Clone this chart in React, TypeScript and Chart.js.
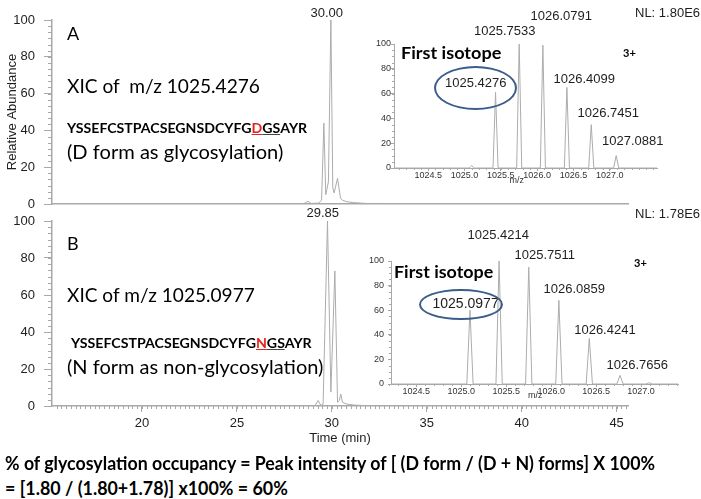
import React, { useEffect, useLayoutEffect, useRef } from 'react';
import { Chart, registerables } from 'chart.js';
Chart.register(...registerables);

// ---------- data ----------
const TIME_MIN = 15.26;
const TIME_MAX = 45.6;
const timeTicks = [20, 25, 30, 35, 40, 45];
const abundTicks = [0, 20, 40, 60, 80, 100];

// XIC m/z 1025.4276 (D form)
const timeA = [15.26, 28.5, 28.74, 28.9, 29.3, 29.46, 29.58, 29.68, 29.82, 29.95, 30.05, 30.12, 30.3, 30.46, 30.58, 30.8, 31.1, 31.8, 45.6];
const abundA = [0, 0, 1.5, 0.3, 0.5, 2, 44, 5, 12, 100, 9, 6, 14, 3, 2, 1.2, 0.8, 0.3, 0];

// XIC m/z 1025.0977 (N form)
const timeB = [15.26, 29.1, 29.28, 29.42, 29.54, 29.77, 29.95, 30.16, 30.3, 30.4, 30.47, 30.56, 30.8, 31.2, 31.8, 45.6];
const abundB = [0, 0, 3, 0.3, 1, 100, 7.5, 73, 2, 3, 6.5, 2, 1, 0.5, 0.2, 0];

// Inset spectra
const mzTicks = [1024.5, 1025.0, 1025.5, 1026.0, 1026.5, 1027.0];
const mzA = [1025.1, 1025.4276, 1025.7533, 1026.0791, 1026.4099, 1026.7451, 1027.0881];
const intA = [2, 61, 100, 99, 65, 35, 10];
const mzB = [1025.0977, 1025.4214, 1025.7511, 1026.0859, 1026.4241, 1026.7656, 1027.09];
const intB = [60, 100, 95, 68, 37, 7, 1];
const MZ_A_RANGE = [1024.03, 1027.65];
const MZ_B_RANGE = [1024.22, 1027.41];
const PEAK_HALF_WIDTH = 0.035;

// ---------- styles ----------
const CAL = "Lato, 'Open Sans', sans-serif";
const ARIAL = "'Liberation Sans', Arial, sans-serif";
const AXIS = '#a8a8a8';
const TRACE = '#acacac';
const TXT = '#1e1e1e';

type Minor = { axis: string; from: number; to: number; step: number; len: number };

function minorTicksPlugin(items: Minor[]) {
  return {
    id: 'minorTicks',
    afterDraw(chart: any) {
      const ctx = chart.ctx;
      ctx.save();
      ctx.strokeStyle = AXIS;
      ctx.lineWidth = 1;
      ctx.beginPath();
      items.forEach((it) => {
        const scale = chart.scales[it.axis];
        const n = Math.round((it.to - it.from) / it.step);
        for (let i = 0; i <= n; i++) {
          const v = it.from + i * it.step;
          const p = Math.round(scale.getPixelForValue(v)) + 0.5;
          if (scale.isHorizontal()) {
            ctx.moveTo(p, scale.top);
            ctx.lineTo(p, scale.top + it.len);
          } else {
            ctx.moveTo(scale.right - it.len, p);
            ctx.lineTo(scale.right, p);
          }
        }
      });
      ctx.stroke();
      ctx.restore();
    },
  };
}

function chromConfig(times: number[], values: number[], o: { padTop: number; xHeight: number; showX: boolean; yTitle: boolean }) {
  const data = times.map((t, i) => ({ x: t, y: values[i] }));
  const minors: Minor[] = [{ axis: 'y', from: 0, to: 100, step: 20 / 6, len: 4 }];
  if (o.showX) minors.push({ axis: 'x', from: 15.5, to: 45.5, step: 0.25, len: 3 });
  return {
    type: 'line',
    data: { datasets: [{ data, borderColor: TRACE, borderWidth: 1, pointRadius: 0, tension: 0, fill: false }] },
    options: {
      animation: false,
      responsive: false,
      events: [],
      layout: { padding: { left: 0, right: 73, top: o.padTop, bottom: 0 } },
      plugins: { legend: { display: false }, tooltip: { enabled: false } },
      scales: {
        x: {
          type: 'linear',
          min: TIME_MIN,
          max: TIME_MAX,
          afterBuildTicks: (s: any) => { s.ticks = timeTicks.map((v) => ({ value: v })); },
          afterFit: (s: any) => { s.height = o.xHeight; },
          ticks: { display: o.showX, font: { family: ARIAL, size: 13 }, color: TXT, padding: 4, maxRotation: 0, autoSkip: false, callback: (v: any) => String(v) },
          grid: { drawOnChartArea: false, drawTicks: o.showX, tickLength: 6, color: AXIS },
          border: { color: AXIS, width: 1.5 },
          title: { display: o.showX, text: 'Time (min)', font: { family: ARIAL, size: 13 }, color: TXT, padding: { top: 0, bottom: 4 } },
        },
        y: {
          min: 0,
          max: 100,
          afterBuildTicks: (s: any) => { s.ticks = abundTicks.map((v) => ({ value: v })); },
          afterFit: (s: any) => { s.width = 52; },
          ticks: { font: { family: ARIAL, size: 13 }, color: TXT, padding: 9, callback: (v: any) => String(v) },
          grid: { drawOnChartArea: false, drawTicks: true, tickLength: 8, color: AXIS },
          border: { color: AXIS, width: 1.5 },
          title: { display: o.yTitle, text: 'Relative Abundance', font: { family: ARIAL, size: 13 }, color: TXT, padding: { top: 5, bottom: 0 } },
        },
      },
    },
    plugins: [minorTicksPlugin(minors)],
  };
}

function specConfig(mz: number[], inten: number[], range: number[], o: { padTop: number; padRight: number; yWidth: number; xHeight: number; yPad: number; xPad: number }) {
  const pts: { x: number; y: number }[] = [{ x: range[0], y: 0 }];
  mz.forEach((m, i) => {
    pts.push({ x: m - PEAK_HALF_WIDTH, y: 0 }, { x: m, y: inten[i] }, { x: m + PEAK_HALF_WIDTH, y: 0 });
  });
  pts.push({ x: range[1], y: 0 });
  return {
    type: 'line',
    data: { datasets: [{ data: pts, borderColor: TRACE, borderWidth: 1, pointRadius: 0, tension: 0, fill: false }] },
    options: {
      animation: false,
      responsive: false,
      events: [],
      layout: { padding: { left: 0, right: o.padRight, top: o.padTop, bottom: 0 } },
      plugins: { legend: { display: false }, tooltip: { enabled: false } },
      scales: {
        x: {
          type: 'linear',
          min: range[0],
          max: range[1],
          afterBuildTicks: (s: any) => { s.ticks = mzTicks.map((v) => ({ value: v })); },
          afterFit: (s: any) => { s.height = o.xHeight; },
          ticks: { font: { family: ARIAL, size: 9 }, color: '#333', padding: o.xPad, maxRotation: 0, autoSkip: false, callback: (v: any) => Number(v).toFixed(1) },
          grid: { drawOnChartArea: false, drawTicks: true, tickLength: 3, color: AXIS },
          border: { color: AXIS, width: 1 },
        },
        y: {
          min: 0,
          max: 100,
          afterBuildTicks: (s: any) => { s.ticks = abundTicks.map((v) => ({ value: v })); },
          afterFit: (s: any) => { s.width = o.yWidth; },
          ticks: { font: { family: ARIAL, size: 9 }, color: '#333', padding: o.yPad, callback: (v: any) => String(v) },
          grid: { drawOnChartArea: false, drawTicks: true, tickLength: 3, color: AXIS },
          border: { color: AXIS, width: 1 },
        },
      },
    },
    plugins: [minorTicksPlugin([
      { axis: 'y', from: 0, to: 100, step: 5, len: 2 },
      { axis: 'x', from: 1024.1, to: 1027.6, step: 0.1, len: 2 },
    ])],
  };
}

function ChartCanvas({ left, top, width, height, make }: { left: number; top: number; width: number; height: number; make: () => any }) {
  const ref = useRef<HTMLCanvasElement>(null);
  useEffect(() => {
    const c = new Chart(ref.current as HTMLCanvasElement, make());
    return () => c.destroy();
  }, []);
  return <canvas ref={ref} width={width} height={height} style={{ position: 'absolute', left, top, width, height }} />;
}

function T({ x, y, size, w, bold = false, family = CAL, color = '#000', align = 'left', children }: any) {
  const ref = useRef<HTMLDivElement>(null);
  useLayoutEffect(() => {
    const el = ref.current;
    if (!el) return;
    const cw = el.offsetWidth;
    const s = w ? w / cw : 1;
    const real = cw * s;
    const left = align === 'center' ? x - real / 2 : align === 'right' ? x - real : x;
    el.style.left = `${left}px`;
    el.style.transform = `scaleX(${s})`;
  }, []);
  return (
    <div
      ref={ref}
      style={{
        position: 'absolute',
        left: x,
        top: y - size / 2,
        fontSize: size,
        lineHeight: `${size}px`,
        fontFamily: family,
        fontWeight: bold ? 700 : 400,
        whiteSpace: 'pre',
        color,
        transformOrigin: 'left center',
      }}
    >
      {children}
    </div>
  );
}

const RED = '#e3241d';

function Seq({ mark }: { mark: string }) {
  return (
    <>
      YSSEFCSTPACSEGNSDCYFG
      <span style={{ color: RED, textDecoration: 'underline', textDecorationColor: RED }}>{mark}</span>
      <span style={{ textDecoration: 'underline', textDecorationColor: '#444' }}>GS</span>
      AYR
    </>
  );
}

export default function App() {
  return (
    <div style={{ position: 'fixed', left: 0, top: 0, width: 701, height: 499, background: '#fff', overflow: 'hidden' }}>
      <ChartCanvas left={0} top={0} width={701} height={222} make={() => chromConfig(timeA, abundA, { padTop: 20, xHeight: 18, showX: false, yTitle: true })} />
      <ChartCanvas left={0} top={200} width={701} height={250} make={() => chromConfig(timeB, abundB, { padTop: 21, xHeight: 44, showX: true, yTitle: false })} />
      <ChartCanvas left={360} top={34} width={305} height={156} make={() => specConfig(mzA, intA, MZ_A_RANGE, { padTop: 10, padRight: 8, yWidth: 34, xHeight: 22, yPad: 0, xPad: -1 })} />
      <ChartCanvas left={355} top={250} width={330} height={155} make={() => specConfig(mzB, intB, MZ_B_RANGE, { padTop: 11, padRight: 7, yWidth: 36, xHeight: 21, yPad: 4, xPad: -1 })} />

      {/* panel A annotations */}
      <T x={67} y={33} size={18}>A</T>
      <T x={67} y={85} size={20} w={193}>XIC of  m/z 1025.4276</T>
      <T x={67} y={128} size={13} w={240} bold><Seq mark="D" /></T>
      <T x={67} y={151} size={20} w={216}>(D form as glycosylation)</T>
      <T x={327} y={12} size={13} family={ARIAL} color={TXT} align="center">30.00</T>
      <T x={700} y={12} size={13} family={ARIAL} color={TXT} align="right">NL: 1.80E6</T>

      {/* inset A annotations */}
      <T x={401} y={52} size={17} w={100} bold>First isotope</T>
      <T x={623} y={52} size={11} bold>3+</T>
      <T x={504.5} y={30} size={13} family={ARIAL} color={TXT} align="center">1025.7533</T>
      <T x={561} y={15.5} size={13} family={ARIAL} color={TXT} align="center">1026.0791</T>
      <T x={475.5} y={82} size={13} family={ARIAL} color={TXT} align="center">1025.4276</T>
      <T x={584} y={78} size={13} family={ARIAL} color={TXT} align="center">1026.4099</T>
      <T x={608} y={112.5} size={13} family={ARIAL} color={TXT} align="center">1026.7451</T>
      <T x={632.5} y={140} size={13} family={ARIAL} color={TXT} align="center">1027.0881</T>
      <T x={517} y={180} size={9} family={ARIAL} color="#333" align="center">m/z</T>
      <div style={{ position: 'absolute', left: 434, top: 66, width: 83, height: 44, border: '2.5px solid #3b5d8b', borderRadius: '50%', boxSizing: 'border-box' }} />

      {/* panel B annotations */}
      <T x={67} y={243} size={18}>B</T>
      <T x={67} y={294} size={20} w={188}>XIC of m/z 1025.0977</T>
      <T x={71} y={344} size={13.5} w={241} bold><Seq mark="N" /></T>
      <T x={67} y={366} size={20} w={256}>(N form as non-glycosylation)</T>
      <T x={323} y={212} size={13} family={ARIAL} color={TXT} align="center">29.85</T>
      <T x={700} y={213.5} size={13} family={ARIAL} color={TXT} align="right">NL: 1.78E6</T>

      {/* inset B annotations */}
      <T x={394} y={271} size={17} w={99} bold>First isotope</T>
      <T x={634} y={262} size={11} bold>3+</T>
      <T x={498} y={234.5} size={13} family={ARIAL} color={TXT} align="center">1025.4214</T>
      <T x={545} y={254} size={13} family={ARIAL} color={TXT} align="center">1025.7511</T>
      <T x={574} y={288.7} size={13} family={ARIAL} color={TXT} align="center">1026.0859</T>
      <T x={604.7} y={329.7} size={13} family={ARIAL} color={TXT} align="center">1026.4241</T>
      <T x={637} y={364.4} size={13} family={ARIAL} color={TXT} align="center">1026.7656</T>
      <T x={465.5} y={302.7} size={14} family={ARIAL} color={TXT} align="center">1025.0977</T>
      <T x={535.5} y={395.5} size={9} family={ARIAL} color="#333" align="center">m/z</T>
      <div style={{ position: 'absolute', left: 419, top: 288.5, width: 84, height: 31.5, border: '2.5px solid #3b5d8b', borderRadius: '50%', boxSizing: 'border-box' }} />

      {/* formula */}
      <T x={5} y={462} size={19} w={650} bold>% of glycosylation occupancy = Peak intensity of [ (D form / (D + N) forms] X 100%</T>
      <T x={5} y={487} size={19} w={283} bold>= [1.80 / (1.80+1.78)] x100% = 60%</T>
    </div>
  );
}
